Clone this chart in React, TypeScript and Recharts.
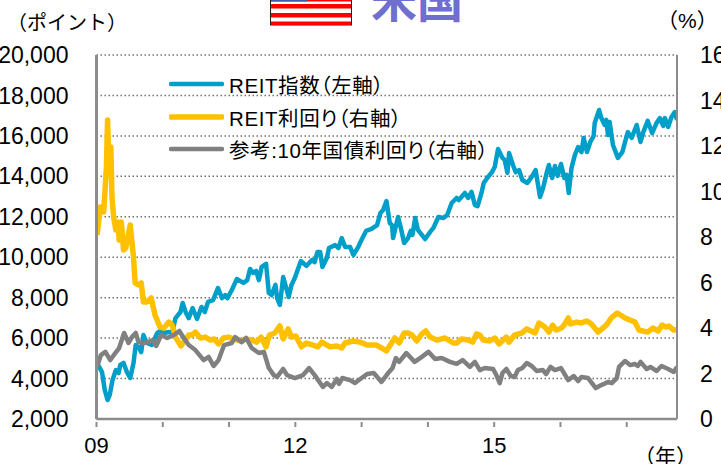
import React from "react";
import { LineChart, Line, XAxis, YAxis, CartesianGrid, Legend } from "recharts";

// x values: months since January 2009
const reitMonths = [0,1,1.5,2,2.4,2.9,3.5,4,4.3,4.9,5.5,6.1,6.7,7.1,7.6,8.1,8.5,9.1,10,11,11.5,12.2,13.1,13.7,14.3,15.2,15.6,16.2,16.7,17.4,18.2,19,19.6,20.2,21.1,22,22.7,23.3,23.7,24.5,25.4,26.6,27.3,27.8,28.4,28.9,29.4,29.9,30.7,31.2,31.7,32.4,32.7,33.2,33.8,34.8,35.3,35.9,37,38,39,39.5,40,40.5,40.9,41.7,42.1,43.2,43.8,44.4,45,45.9,46.5,47.4,47.7,48.8,49.8,50.8,51.4,51.9,52.5,53.1,53.5,53.7,54.6,55.1,55.7,56.4,56.9,57.2,57.7,58.2,59.5,60.4,61,61.9,62.8,63.5,64.3,65.2,65.6,66.7,67.3,67.9,68.5,69,69.7,70.1,70.9,71.6,72.1,72.7,73.5,73.9,74.4,74.7,75.4,75.9,76.5,77.1,78,78.8,79.5,80.3,80.9,81.5,81.9,82.5,83,83.5,84.1,84.7,85.1,85.5,86,86.6,87.2,87.8,88.2,88.8,89.4,90,90.2,91,91.4,92,92.3,92.6,92.9,93.5,94.4,95.2,95.7,96.2,96.9,97.8,98.5,99,99.8,100.6,101.4,102,102.6,102.9,103.5,104.1,104.7,105.1];
const reitValues = [4820,4320,3430,2940,3190,3930,4420,4270,4670,4770,4320,4030,4770,5660,5560,5310,6150,5760,5660,6250,6350,6250,6300,6250,6990,7290,7740,7240,6990,7490,6945,7540,7290,7790,7880,8480,7980,8130,7980,8380,8920,8730,8870,9420,9220,9320,8870,9520,9670,8230,8130,8630,7980,7640,9020,8030,8630,8970,9810,9570,9860,9760,10260,10260,9520,9960,10460,10600,10460,10950,10510,10510,10110,10510,10700,11300,11400,11590,12190,12340,12780,11690,11590,10950,11990,11450,10700,10950,11300,11100,11940,11350,10900,11250,11450,11990,11940,12090,12680,12930,12830,13180,12930,13230,12580,12530,13180,13670,13970,14210,14460,15350,14910,14810,14170,15150,14560,14210,14310,13820,13670,13970,14310,12980,13470,14170,14560,13920,14510,14020,14610,13920,14070,13180,14410,15050,15450,15200,15900,15200,15700,15990,16640,17280,16880,16540,16790,16040,16690,15550,14910,15200,15700,16190,15900,16540,15700,16190,16740,16140,16640,16880,16490,16880,16440,16930,17180,16790];

const yieldMonths = [0.1,0.7,1.3,1.8,2,2.3,2.6,2.8,3.1,3.5,3.9,4.1,4.5,4.9,5.3,6.1,6.7,7,7.6,8.1,8.5,9.1,9.9,10.6,11.5,12.2,13.1,13.7,14.3,15.3,16.7,17.3,17.9,18.8,19.7,20.6,21.3,22.1,23,23.9,24.8,26,26.9,28.1,29,29.8,30.7,31.3,32.3,33.2,33.8,34.7,35.3,36.1,37.1,38,39.2,40.1,40.8,42.3,43.5,44.4,45,46.5,47.7,49,50.7,52.5,53.4,54,54.8,55.7,56.4,57.1,58,58.9,59.6,60.4,61.6,63.1,64.6,65.2,66.1,67.3,68.1,68.8,69.4,70,71.2,72.1,72.9,74.2,74.7,75.7,77,77.9,79.4,80.1,81.2,81.9,82.6,83.2,84.2,84.8,85.4,85.8,86.9,87.8,88.7,89.6,90.8,92.3,93.2,94.3,95.7,97.5,98.2,98.9,99.8,100.7,101.7,102.4,103.1,103.6,104.5,105.1];
const yieldValues = [8.09,9.32,9.1,11.08,13.14,10.95,11.96,9.76,8.88,8.31,8.66,7.87,8.66,7.43,7.52,8.53,7.12,5.98,5.89,5.98,5.14,5.14,5.32,4.57,4.04,4,4.26,4.13,3.6,3.21,3.69,3.69,3.82,3.56,3.6,3.47,3.52,3.3,3.56,3.6,3.52,3.43,3.52,3.47,3.38,3.6,3.17,3.69,3.78,4.09,3.52,3.96,3.6,3.65,3.17,3.34,3.25,3.17,3.38,3.17,3.21,3.12,3.34,3.43,3.38,3.25,3.25,2.99,3.34,3.56,3.34,3.78,3.78,3.69,3.43,3.74,3.87,3.6,3.47,3.56,3.34,3.34,3.52,3.47,3.38,3.74,3.69,3.47,3.43,3.56,3.3,3.6,3.38,3.69,3.78,3.96,3.78,4.22,4.04,3.82,4.13,3.91,4,4.18,4.44,4.18,4.26,4.22,4.31,4.18,3.82,4.13,4.44,4.66,4.44,4.26,3.91,3.87,3.82,4,3.87,4.13,4.04,4.09,3.91,3.91];

const bondMonths = [0.1,0.8,1.6,2.5,3.4,4.1,5,5.8,6.4,7.1,7.6,8.5,9.4,10.2,10.8,11.7,12.8,14,15,15.8,16.7,17.9,19.4,20.3,21.2,22.1,23.1,24.5,25.1,26.3,27.1,28.1,29.4,30.3,31.2,32.1,32.7,33.8,34.5,35.9,37.4,38.5,39.5,41,41.7,42.6,43.5,43.9,44.5,45.9,46.8,48,49,50.2,51.6,52.8,53.6,54.2,54.8,56.1,57.6,58.9,60.1,61.3,62.5,64,65.2,66.3,67.6,68.5,69.4,70.3,71.8,72.4,73,73.5,74.2,75,75.7,76.3,77.1,77.9,78.8,79.7,80.8,81.4,82.2,83,84.1,85.4,86.4,87.2,87.8,89,90.4,91.4,92.6,93.3,94.2,94.6,95.7,96.6,97.5,98,98.5,99.6,100.3,101.4,102.3,103.5,104.5,105.1];
const bondValues = [2.29,2.81,2.95,2.59,2.9,3.12,3.78,3.34,3.6,3.78,3.38,3.34,3.38,3.47,3.21,3.69,3.56,3.69,3.87,3.56,3.25,3.03,2.59,2.73,2.33,2.59,3.25,3.34,3.6,3.38,3.56,3.12,2.9,2.95,2.24,1.93,1.85,2.2,1.93,1.8,1.93,2.24,1.93,1.41,1.58,1.41,1.76,1.54,1.8,1.71,1.58,1.8,1.98,2.02,1.63,2.02,2.24,2.68,2.51,2.9,2.51,2.73,2.95,2.64,2.68,2.51,2.42,2.59,2.29,2.51,2.15,2.24,2.2,1.93,1.58,2.02,2.2,1.89,1.85,2.15,2.24,2.46,2.33,2.11,2.15,1.98,2.29,2.15,2.24,1.71,1.89,1.67,1.85,1.8,1.36,1.49,1.63,1.58,1.8,2.29,2.55,2.37,2.42,2.33,2.51,2.2,2.29,2.11,2.33,2.2,2.07,2.29];

const xTicks = [0,12,24,36,48,60,72,84,96];
const xLabels: Record<number,string> = { 0: "09", 36: "12", 72: "15" };
const leftTicks = [2000,4000,6000,8000,10000,12000,14000,16000,18000,20000];
const rightTicks = [0,2,4,6,8,10,12,14,16];

const names = ["REIT指数（左軸）", "REIT利回り（右軸）", "参考:10年国債利回り（右軸）"];
const colors = ["#009FC9", "#FFC000", "#808080"];
const widths = [4.5, 5.5, 4.5];

const zip = (xs: number[], ys: number[]) => xs.map((m, i) => ({ m, v: ys[i] }));
const FONT = '"Liberation Sans", "Noto Sans CJK JP", sans-serif';
const AXIS = "#8c8c8c";

const LegendBox = () => (
  <div style={{ fontFamily: FONT, fontSize: 20.5, color: "#000", letterSpacing: 0.6, fontFeatureSettings: '"palt"' }}>
    {names.map((n, i) => (
      <div key={n} style={{ display: "flex", alignItems: "center", height: 32.5, whiteSpace: "nowrap" }}>
        <svg width={55} height={8} style={{ marginRight: 5, flex: "none" }}>
          <line x1={2} x2={53} y1={4} y2={4} stroke={colors[i]} strokeWidth={i === 1 ? 5.5 : 4.5} strokeLinecap="round" />
        </svg>
        <span>{n}</span>
      </div>
    ))}
  </div>
);

const XTick = (p: any) => (
  <g>
    <line x1={p.x} x2={p.x} y1={p.y - 5} y2={p.y} stroke={AXIS} strokeWidth={2} />
    <text x={p.x} y={p.y + 26} textAnchor="middle" fontSize={22} fontFamily={FONT} fill="#000">
      {xLabels[p.payload.value] ?? ""}
    </text>
  </g>
);

const label = (text: string, left: number, top: number, size: number) => (
  <div style={{ position: "absolute", left, top, fontFamily: FONT, fontSize: size, lineHeight: "24px", color: "#000", whiteSpace: "nowrap" }}>{text}</div>
);

export default function App() {
  return (
    <div style={{ position: "absolute", left: 0, top: 0, width: 721, height: 464, overflow: "hidden", background: "#fff" }}>
      <LineChart width={721} height={464} margin={{ top: 55, right: 0, bottom: 0, left: 0 }}>
        <CartesianGrid yAxisId="l" vertical={false} stroke="#707070" strokeWidth={1.5} strokeDasharray="1.5 2.5" />
        <XAxis xAxisId={0} type="number" dataKey="m" domain={[0, 105.1]} ticks={xTicks} height={45}
          axisLine={{ stroke: AXIS, strokeWidth: 2.5 }} tickLine={false} tick={<XTick />} interval={0} allowDataOverflow />
        <YAxis yAxisId="l" domain={[2000, 20000]} ticks={leftTicks} width={96.5} interval={0}
          tickFormatter={(v: number) => v.toLocaleString("en-US")}
          axisLine={{ stroke: AXIS, strokeWidth: 3 }} tickLine={false} tickMargin={22}
          tick={{ fontSize: 23, fontFamily: FONT, fill: "#000" }} allowDataOverflow />
        <YAxis yAxisId="r" orientation="right" domain={[0, 16]} ticks={rightTicks} width={44} interval={0}
          axisLine={{ stroke: AXIS, strokeWidth: 2 }} tickLine={false} tickMargin={17}
          tick={{ fontSize: 23, fontFamily: FONT, fill: "#000" }} allowDataOverflow />
        <Legend layout="vertical" verticalAlign="middle" align="center" content={<LegendBox />}
          wrapperStyle={{ position: "absolute", left: 169, top: 68, width: 340 }} />
        <Line yAxisId="l" name={names[0]} data={zip(reitMonths, reitValues)} dataKey="v" type="linear" dot={false}
          stroke={colors[0]} strokeWidth={widths[0]} strokeLinejoin="round" isAnimationActive={false} />
        <Line yAxisId="r" name={names[1]} data={zip(yieldMonths, yieldValues)} dataKey="v" type="linear" dot={false}
          stroke={colors[1]} strokeWidth={widths[1]} strokeLinejoin="round" isAnimationActive={false} />
        <Line yAxisId="r" name={names[2]} data={zip(bondMonths, bondValues)} dataKey="v" type="linear" dot={false}
          stroke={colors[2]} strokeWidth={widths[2]} strokeLinejoin="round" isAnimationActive={false} />
      </LineChart>

      {label("（ポイント）", 7, 11, 20)}
      {label("（%）", 657, 9, 21)}
      {label("（年）", 634, 445, 21)}

      <svg width={721} height={30} style={{ position: "absolute", left: 0, top: 0 }}>
        <rect x={270.5} y={0} width={81} height={25} fill="#fff" stroke="#222" strokeWidth={1} />
        <rect x={271} y={0} width={80} height={1.5} fill="#f00" />
        <rect x={271} y={0} width={36} height={1.5} fill="#3b5fa8" />
        <rect x={271} y={4} width={80} height={4.5} fill="#f00" />
        <rect x={271} y={13} width={80} height={4.5} fill="#f00" />
        <rect x={271} y={21.5} width={80} height={3.5} fill="#f00" />
        <text x={371} y={17} fontSize={46} fontWeight={700} fontFamily='"Noto Sans CJK JP"' fill="#6F6FD0">米国</text>
      </svg>
    </div>
  );
}
